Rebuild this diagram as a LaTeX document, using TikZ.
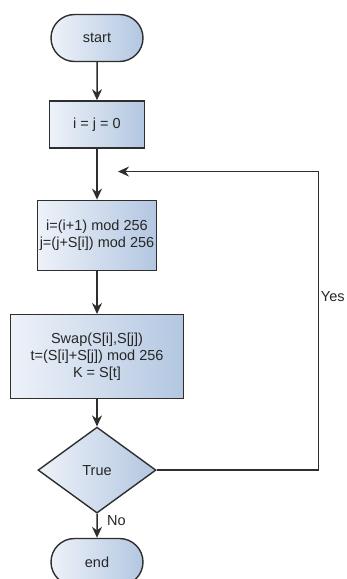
\documentclass[tikz,border=0pt]{standalone}
\usepackage{fontspec}
\setmainfont{Liberation Sans}
\usetikzlibrary{arrows.meta, calc, positioning, shapes.geometric, shapes.misc}

\definecolor{boxleft}{HTML}{EEF2F9}
\definecolor{boxright}{HTML}{B3C7E1}
\definecolor{edge}{HTML}{2E2E2E}

\begin{document}
\begin{tikzpicture}[x=1pt,y=-1pt,->,>={Stealth[length=11pt,width=10pt]},line width=1.5pt,
  draw=edge,node distance=40pt,
  every node/.style={font=\fontsize{14.5}{17}\selectfont,align=center,text=black!85},
  base/.style={draw=edge,line width=1.4pt,left color=boxleft,right color=boxright,inner sep=2pt},
  term/.style={base,rounded rectangle,minimum width=96pt,minimum height=47pt},
  proc/.style={base,rectangle},
  test/.style={base,diamond,minimum width=118pt,minimum height=86pt,inner sep=0pt}]
  \useasboundingbox (0,0) rectangle (346,579);
  \node[term] (start) at (97,38) {start};
  \node[proc, minimum width=95pt, minimum height=47pt] (init) [below=38pt of start] {i = j = 0};
  \node[proc, minimum width=117pt, minimum height=70pt] (step1) [below=51pt of init]
    {i=(i+1) mod 256\\j=(j+S[i]) mod 256};
  \node[proc, minimum width=173pt, minimum height=84pt] (step2) [below=43pt of step1]
    {Swap(S[i],S[j])\\t=(S[i]+S[j]) mod 256\\K = S[t]};
  \node[test] (cond) [below=27pt of step2] {True};
  \node[term] (end) [below=24pt of cond] {end};

  \coordinate (back) at ([xshift=21pt]$(init.south)!0.45!(step1.north)$);
  \coordinate (turn) at ([xshift=162pt]cond.east);

  \draw (start) -- (init);
  \draw (init) -- (step1);
  \draw (step1) -- (step2);
  \draw (step2) -- (cond);
  \draw (cond) -- node[pos=0.3, right=6pt] {No} (end);
  \draw (cond.east) -- (turn) -- node[pos=0.58, right=1.5pt, inner sep=0pt] {Yes} (turn |- back) -- (back);
\end{tikzpicture}
\end{document}
